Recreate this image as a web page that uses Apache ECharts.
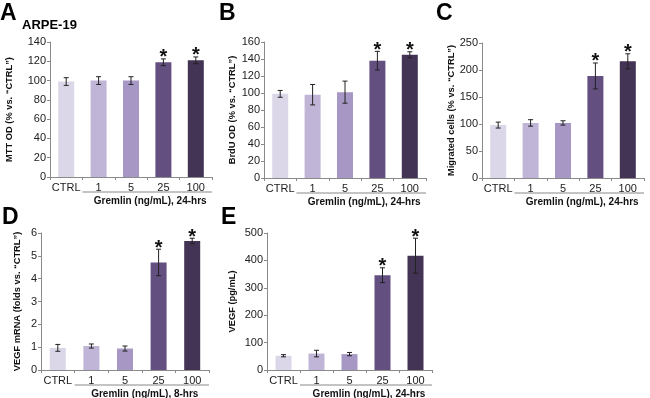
<!DOCTYPE html>
<html>
<head>
<meta charset="utf-8">
<script src="https://cdn.jsdelivr.net/npm/echarts@6/dist/echarts.min.js"></script>
<style>
  html, body { margin: 0; padding: 0; background: #fff; }
  #main { width: 650px; height: 398px; }
</style>
</head>
<body>
<div id="main"></div>
<script>
// Gremlin dose groups
var categories = ['CTRL', '1', '5', '25', '100'];
var barColors = ['#dcd7e8', '#c0b5d7', '#a697c4', '#634f80', '#433354'];
var starred = [false, false, false, true, true];

// A: MTT
var mttMean = [99, 100, 100, 119, 121];
var mttErr = [4, 4, 4, 3.5, 3.5];
// B: BrdU
var brduMean = [99, 98, 101, 138, 145];
var brduErr = [4, 12, 13, 11, 3.5];
// C: migration
var migMean = [98, 102, 102, 189, 216];
var migErr = [5.5, 6, 4, 24, 14];
// D: VEGF mRNA
var mrnaMean = [0.97, 1.05, 0.94, 4.71, 5.65];
var mrnaErr = [0.15, 0.09, 0.11, 0.58, 0.12];
// E: VEGF protein
var vegfMean = [52, 60, 58, 346, 417];
var vegfErr = [4, 12, 6, 27, 64];

var panels = [
  {letter: 'A', mean: mttMean, err: mttErr, max: 140, step: 20, name: 'MTT OD (% vs. \u201cCTRL\u201d)',
   sub: 'Gremlin (ng/mL), 24-hrs', left: 50, top: 42, width: 162, height: 135, nameGap: 36},
  {letter: 'B', mean: brduMean, err: brduErr, max: 160, step: 20, name: 'BrdU OD (% vs. \u201cCTRL\u201d)',
   sub: 'Gremlin (ng/mL), 24-hrs', left: 264, top: 42, width: 162, height: 136, nameGap: 27},
  {letter: 'C', mean: migMean, err: migErr, max: 250, step: 50, name: 'Migrated cells (% vs. \u201cCTRL\u201d)',
   sub: 'Gremlin (ng/mL), 24-hrs', left: 482, top: 43, width: 162, height: 135, nameGap: 26},
  {letter: 'D', mean: mrnaMean, err: mrnaErr, max: 6, step: 1, name: 'VEGF mRNA (folds vs. \u201cCTRL\u201d)',
   sub: 'Gremlin (ng/mL), 8-hrs', left: 41, top: 233, width: 168, height: 137, nameGap: 19},
  {letter: 'E', mean: vegfMean, err: vegfErr, max: 500, step: 100, name: 'VEGF (pg/mL)',
   sub: 'Gremlin (ng/mL), 24-hrs', left: 267, top: 233, width: 165, height: 137, nameGap: 30}
];

var font = 'Liberation Sans, Arial, sans-serif';
var axisGray = '#8a8a8a';

var grids = [], xAxes = [], yAxes = [], series = [], graphics = [];

function errorBarItem(params, api) {
  var idx = api.value(0);
  var m = api.value(1);
  var e = api.value(2);
  var hi = api.coord([idx, m + e]);
  var lo = api.coord([idx, m - e]);
  var cap = 2.5;
  var st = {stroke: '#222', lineWidth: 1};
  var kids = [
    {type: 'line', shape: {x1: hi[0], y1: hi[1], x2: lo[0], y2: lo[1]}, style: st},
    {type: 'line', shape: {x1: hi[0] - cap, y1: hi[1], x2: hi[0] + cap, y2: hi[1]}, style: st},
    {type: 'line', shape: {x1: lo[0] - cap, y1: lo[1], x2: lo[0] + cap, y2: lo[1]}, style: st}
  ];
  if (api.value(3)) {
    kids.push({type: 'text', x: hi[0], y: hi[1] + 9,
      style: {text: '*', fill: '#111', font: 'bold 20px ' + font, align: 'center', verticalAlign: 'bottom'}});
  }
  return {type: 'group', children: kids};
}

panels.forEach(function (p, i) {
  grids.push({left: p.left, top: p.top, width: p.width, height: p.height});
  xAxes.push({
    gridIndex: i, type: 'category', data: categories,
    axisLine: {lineStyle: {color: axisGray, width: 1}},
    axisTick: {show: true, length: 3, lineStyle: {color: axisGray}},
    axisLabel: {color: '#222', fontSize: 11, fontFamily: font, margin: 5, interval: 0}
  });
  yAxes.push({
    gridIndex: i, type: 'value', min: 0, max: p.max, interval: p.step,
    name: p.name, nameLocation: 'middle', nameRotate: 90, nameGap: p.nameGap,
    nameTextStyle: {color: '#111', fontSize: 9.3, fontWeight: 'bold', fontFamily: font},
    axisLine: {show: true, lineStyle: {color: axisGray, width: 1}},
    axisTick: {show: true, length: 3, lineStyle: {color: axisGray}},
    axisLabel: {color: '#222', fontSize: 11, fontFamily: font, margin: 4},
    splitLine: {show: false}
  });
  series.push({
    type: 'bar', xAxisIndex: i, yAxisIndex: i, barWidth: 16,
    data: p.mean.map(function (v, k) { return {value: v, itemStyle: {color: barColors[k]}}; }),
    silent: true
  });
  series.push({
    type: 'custom', xAxisIndex: i, yAxisIndex: i, renderItem: errorBarItem, z: 5,
    data: p.mean.map(function (v, k) { return [k, v, p.err[k], starred[k] ? 1 : 0]; }),
    silent: true
  });
  var cell = p.width / categories.length;
  var lineY = p.top + p.height + 15;
  graphics.push({type: 'line', shape: {x1: p.left + cell, y1: lineY, x2: p.left + p.width, y2: lineY},
    style: {stroke: '#888', lineWidth: 1}});
  graphics.push({type: 'text', x: p.left + cell + (p.width - cell) / 2 + 3, y: lineY + 9,
    style: {text: p.sub, fill: '#111', font: 'bold 10px ' + font, align: 'center', verticalAlign: 'middle'}});
});

// panel letters
var letterPos = [[0, 2], [219, 2], [436, 2], [2, 206], [221, 206]];
panels.forEach(function (p, i) {
  graphics.push({type: 'text', x: letterPos[i][0], y: letterPos[i][1],
    style: {text: p.letter, fill: '#000', font: 'bold 23px ' + font}});
});
graphics.push({type: 'text', x: 22, y: 19, style: {text: 'ARPE-19', fill: '#000', font: 'bold 13px ' + font}});

var chart = echarts.init(document.getElementById('main'), null, {renderer: 'canvas'});
chart.setOption({
  animation: false,
  grid: grids,
  xAxis: xAxes,
  yAxis: yAxes,
  series: series,
  graphic: graphics
});
</script>
</body>
</html>
